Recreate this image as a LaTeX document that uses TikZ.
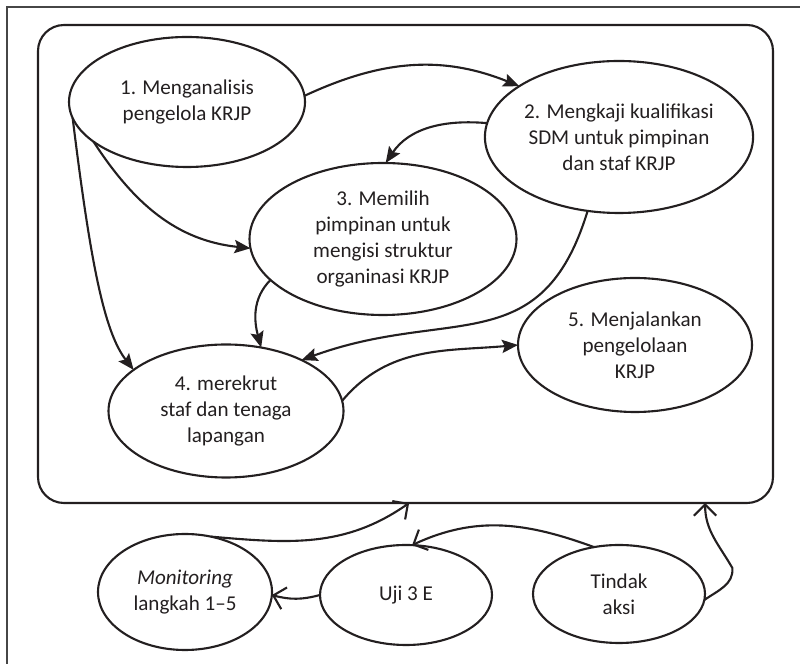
\documentclass[tikz,border=0pt]{standalone}
\usepackage{fontspec}
\setmainfont{Carlito}
\usetikzlibrary{arrows.meta,shapes.geometric,calc}
\definecolor{ink}{RGB}{35,31,32}
\definecolor{rim}{RGB}{70,70,70}
\tikzset{
  >={Stealth[length=4mm,width=3.3mm,inset=0.7mm]},
  stage/.style={ellipse,draw=ink,line width=1.5pt,inner sep=0pt,outer sep=0pt,
    align=center,text=ink,font=\fontsize{15}{18.5}\selectfont},
  panel/.style={draw=ink,line width=1.5pt,rounded corners=0.65cm,outer sep=0pt,
    minimum width=18.375cm,minimum height=11.95cm},
  flow/.style={->,line width=1.5pt,draw=ink},
  feed/.style={-{Straight Barb[length=2.8mm,width=5.6mm]},line width=1.5pt,draw=ink},
}
\begin{document}
\begin{tikzpicture}
  \useasboundingbox (0,0) rectangle (20,16.6);
  % page frame
  \draw[rim,line width=0.9pt] (0.175,0) -- (0.175,16.425) -- (20,16.425);
  \node[panel] (box) at (10.1375,10) {};
  % the five steps
  \node[stage,minimum width=5.9cm,minimum height=3.25cm] (e1) at (4.675,14.05)
    {1. Menganalisis\\pengelola KRJP};
  \node[stage,minimum width=6.65cm,minimum height=3.8cm] (e2) at (15.475,13.175)
    {2. Mengkaji kualifikasi\\SDM untuk pimpinan\\dan staf KRJP};
  \node[stage,minimum width=6.675cm,minimum height=3.8cm] (e3) at (9.575,10.625)
    {3. Memilih\\pimpinan untuk\\mengisi struktur\\organinasi KRJP};
  \node[stage,minimum width=5.875cm,minimum height=3.325cm] (e4) at (5.65,6.325)
    {4. merekrut\\staf dan tenaga\\lapangan};
  \node[stage,minimum width=5.85cm,minimum height=3.35cm] (e5) at (15.875,7.975)
    {5. Menjalankan\\pengelolaan\\KRJP};
  % control loop
  \node[stage,minimum width=4.35cm,minimum height=2.9cm] (mon) at (4.625,1.8)
    {\textit{Monitoring}\\langkah 1–5};
  \node[stage,minimum width=4.3cm,minimum height=2.5cm] (uji) at (10.15,1.725) {Uji 3 E};
  \node[stage,minimum width=4.3cm,minimum height=2.45cm] (tin) at (15.475,1.75)
    {Tindak\\aksi};
  \coordinate (upa) at ([xshift=0.09cm]box.south);
  \coordinate (upb) at ([xshift=7.49cm]box.south);

  \draw[flow] (e1.3) to[out=25,in=158] (e2.153);
  \draw[flow] (e2.174) to[out=175,in=56] (e3.88);
  \draw[flow] (e1.203) to[out=-57,in=174] (e3.184);
  \draw[flow] (e1.188) .. controls +(-83:3.6) and +(128:1.2) .. (e4.156);
  \draw[flow] (e3.200) to[out=225,in=105] (e4.61);
  \draw[flow] (e2.247) to[out=253,in=20,looseness=1.25] (e4.34);
  \draw[flow] (e4.5) to[out=50,in=185] (e5.180);

  \draw[feed] (mon.65) to[out=-5,in=-145] (upa);
  \draw[feed] (uji.180) to[out=195,in=-15] (mon.-2);
  \draw[feed] (tin.118) to[out=160,in=25] (uji.83);
  \draw[feed] (tin.-4) to[out=35,in=-85] ++(0.7,0.8) to[out=120,in=-90] (upb);
\end{tikzpicture}
\end{document}
